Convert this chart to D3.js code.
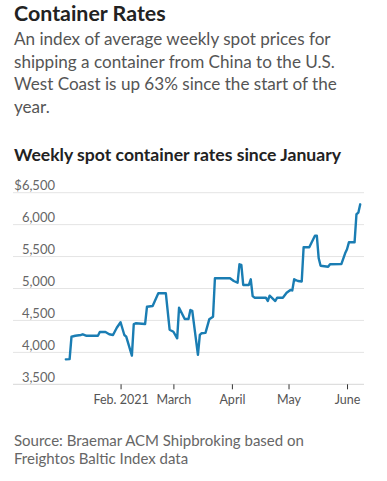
<!DOCTYPE html>
<html>
<head>
<meta charset="utf-8">
<script src="https://cdn.jsdelivr.net/npm/d3@7"></script>
<style>
  html, body { margin: 0; padding: 0; background: #fff; }
  svg { display: block; }
  text { font-family: Lato, "Noto Sans", sans-serif; }
</style>
</head>
<body>
<script>
const titleText = "Container Rates";
const subtitleLines = [
  "An index of average weekly spot prices for",
  "shipping a container from China to the U.S.",
  "West Coast is up 63% since the start of the",
  "year."
];
const chartHeading = "Weekly spot container rates since January";
const sourceLines = [
  "Source: Braemar ACM Shipbroking based on",
  "Freightos Baltic Index data"
];

const dates = [
  "2021-01-03","2021-01-05","2021-01-06","2021-01-08","2021-01-11","2021-01-12","2021-01-14",
  "2021-01-20","2021-01-21","2021-01-24","2021-01-26","2021-01-28","2021-01-30","2021-02-01",
  "2021-02-03","2021-02-04","2021-02-07","2021-02-08","2021-02-09","2021-02-14","2021-02-15",
  "2021-02-18","2021-02-21","2021-02-25","2021-02-27","2021-03-01","2021-03-03","2021-03-04",
  "2021-03-07","2021-03-09","2021-03-10","2021-03-11","2021-03-14","2021-03-15","2021-03-16",
  "2021-03-18","2021-03-20","2021-03-22","2021-03-23","2021-03-31","2021-04-02","2021-04-04",
  "2021-04-05","2021-04-06","2021-04-07","2021-04-10","2021-04-11","2021-04-12","2021-04-13",
  "2021-04-19","2021-04-20","2021-04-21","2021-04-24","2021-04-25","2021-04-28","2021-04-30",
  "2021-05-02","2021-05-03","2021-05-04","2021-05-06","2021-05-08","2021-05-09","2021-05-12",
  "2021-05-15","2021-05-16","2021-05-17","2021-05-18","2021-05-22","2021-05-23","2021-05-29",
  "2021-05-31","2021-06-01","2021-06-02","2021-06-05","2021-06-06","2021-06-07","2021-06-08"
];
const rates = [
  3891,3895,4245,4260,4272,4283,4260,
  4260,4318,4318,4283,4272,4386,4472,
  4272,4245,3950,4444,4455,4444,4715,
  4726,4925,4925,4355,4323,4220,4700,
  4522,4522,4663,4650,3962,4272,4300,
  4305,4517,4558,5160,5160,5117,5090,
  5379,5370,5055,5055,5144,4882,4856,
  4856,4804,4887,4804,4856,4856,4934,
  4976,4970,5144,5117,5110,5645,5645,
  5827,5827,5473,5357,5341,5379,5383,
  5551,5614,5723,5723,6162,6187,6318
];
const yTicks = [3500, 4000, 4500, 5000, 5500, 6000, 6500];
const yTickLabels = ["3,500", "4,000", "4,500", "5,000", "5,500", "6,000", "$6,500"];
const xTicks = ["2021-02-01", "2021-03-01", "2021-04-01", "2021-05-01", "2021-06-01"];
const xTickLabels = ["Feb. 2021", "March", "April", "May", "June"];

const W = 387, H = 481;
const parse = d3.utcParse("%Y-%m-%d");
const data = dates.map((d, i) => ({ date: parse(d), value: rates[i] }));

const svg = d3.select("body").append("svg").attr("width", W).attr("height", H);

// Title & subtitle
svg.append("text").attr("x", 14).attr("y", 21)
  .attr("font-size", 21.4).attr("font-weight", 700).attr("fill", "#222")
  .text(titleText);
svg.append("g").selectAll("text").data(subtitleLines).join("text")
  .attr("x", 14).attr("y", (d, i) => 45 + i * 22.7)
  .attr("font-size", 17.1).attr("fill", "#555")
  .text(d => d);
svg.append("text").attr("x", 14).attr("y", 161)
  .attr("font-size", 17.6).attr("font-weight", 700).attr("fill", "#222")
  .text(chartHeading);

// Scales
const x = d3.scaleUtc()
  .domain([parse("2020-12-06"), parse("2021-06-10")])
  .range([13, 364]);
const y = d3.scaleLinear().domain([3500, 6500]).range([384.3, 192.7]);

// Gridlines
const grid = svg.append("g");
grid.selectAll("line").data(yTicks).join("line")
  .attr("x1", 13).attr("x2", 364)
  .attr("y1", d => y(d)).attr("y2", d => y(d))
  .attr("stroke", d => d === 3500 ? "#d6d6d6" : "#e4e4e4").attr("stroke-width", 1);
grid.selectAll("text").data(yTicks).join("text")
  .attr("x", 55).attr("y", d => y(d) - 2.5)
  .attr("text-anchor", "end").attr("font-size", 13).attr("fill", "#666")
  .text((d, i) => yTickLabels[i]);

// X axis
const xAxis = d3.axisBottom(x)
  .tickValues(xTicks.map(parse))
  .tickFormat((d, i) => xTickLabels[i])
  .tickSize(5).tickSizeOuter(0).tickPadding(6);
const gx = svg.append("g").attr("transform", "translate(0,384.3)").call(xAxis);
gx.select(".domain").remove();
gx.selectAll(".tick line").attr("stroke", "#333");
gx.selectAll(".tick text").attr("font-size", 12.5).attr("fill", "#555")
  .attr("font-family", "Lato, 'Noto Sans', sans-serif");

// Line
const line = d3.line().x(d => x(d.date)).y(d => y(d.value));
svg.append("path").datum(data)
  .attr("d", line).attr("fill", "none")
  .attr("stroke", "#1a7db3").attr("stroke-width", 2.4)
  .attr("stroke-linejoin", "round").attr("stroke-linecap", "round");

// Source
svg.append("g").selectAll("text").data(sourceLines).join("text")
  .attr("x", 14).attr("y", (d, i) => 446 + i * 17.5)
  .attr("font-size", 15).attr("fill", "#666")
  .text(d => d);
</script>
</body>
</html>
